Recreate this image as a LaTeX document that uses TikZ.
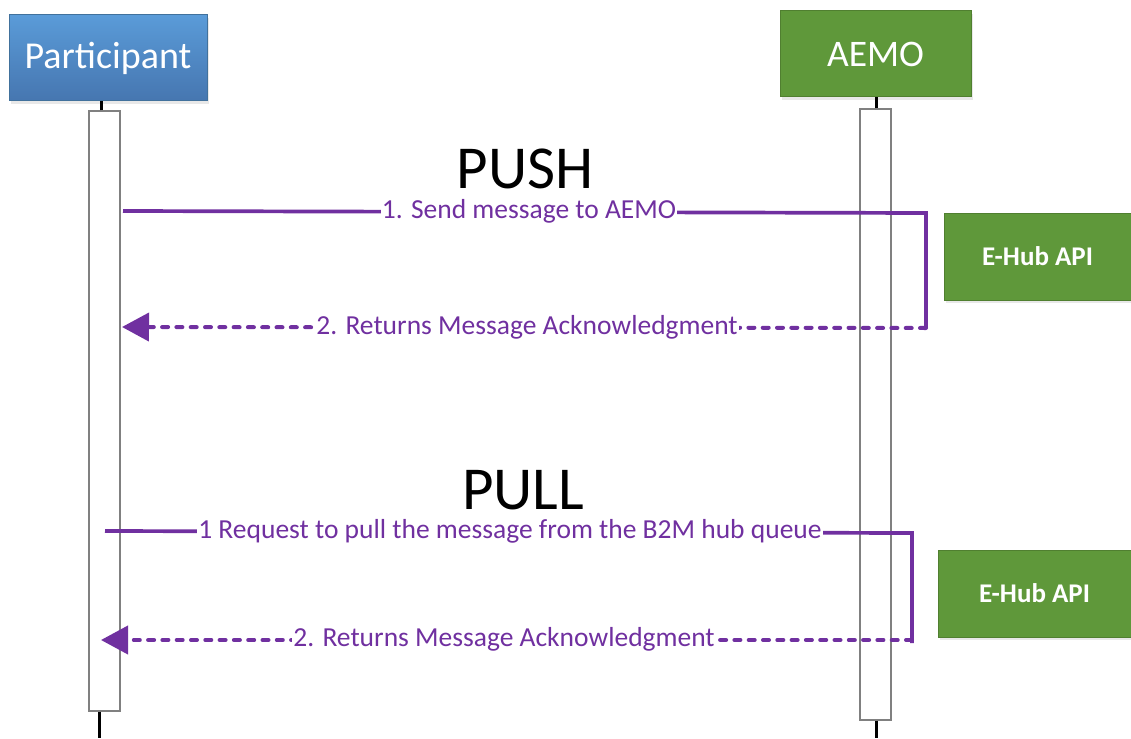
\documentclass[tikz,border=0pt]{standalone}
\usepackage{fontspec}
\setmainfont{Carlito}
\usetikzlibrary{arrows.meta,shadows}
\definecolor{msgpurple}{HTML}{7030A0}
\definecolor{bluetop}{HTML}{5A9BD8}
\definecolor{bluebot}{HTML}{4676B0}
\definecolor{blueedge}{HTML}{41719C}
\definecolor{hubgreen}{HTML}{5F983A}
\definecolor{greenedge}{HTML}{507F30}
\begin{document}
\begin{tikzpicture}[x=1pt,y=-1pt,
  actorblue/.style={draw=blueedge,line width=1pt,top color=bluetop,bottom color=bluebot,
     text=white,minimum width=198pt,minimum height=86pt,inner sep=0pt,
     font=\fontsize{38}{44}\selectfont,
     drop shadow={opacity=0.18,shadow xshift=2pt,shadow yshift=-3pt}},
  actorgreen/.style={draw=greenedge,line width=1pt,fill=hubgreen,
     text=white,minimum width=191pt,minimum height=86pt,inner sep=0pt,
     font=\fontsize{37.5}{44}\selectfont,
     drop shadow={opacity=0.18,shadow xshift=2pt,shadow yshift=-3pt}},
  hubbox/.style={draw=greenedge,line width=1pt,fill=hubgreen,text=white,
     minimum height=87pt,inner sep=0pt,font=\fontsize{27}{30}\selectfont\bfseries,
     drop shadow={opacity=0.18,shadow xshift=2pt,shadow yshift=-3pt}},
  actbox/.style={draw=black!50,line width=1.3pt,fill=white,minimum width=31pt,inner sep=0pt},
  lifeline/.style={draw=black,line width=3pt},
  msgline/.style={draw=msgpurple,line width=3.7pt},
  retline/.style={draw=msgpurple,line width=4pt,line cap=round,dash pattern=on 6pt off 8.3pt,
     -{Triangle[length=27pt,width=28pt,line cap=butt]}},
  lbl/.style={fill=white,text=msgpurple,inner xsep=1pt,inner ysep=0pt,
     text height=15pt,text depth=5pt,font=\fontsize{27.5}{30}\selectfont},
  heading/.style={font=\fontsize{61}{70}\selectfont,inner sep=0pt,anchor=base}
]
\useasboundingbox (0,0) rectangle (1131,738);

% actors
\node[actorblue] (part) at (108,58) {Participant};
\node[actorgreen] (aemo) at (875.5,54) {AEMO};

% activation boxes
\node[actbox,minimum height=600pt] (pact) at (104.5,411) {};
\node[actbox,minimum height=611pt] (aact) at (875.5,414.5) {};

% lifeline stubs
\coordinate (pbot) at (99,738);
\coordinate (abot) at (876,738);
\draw[lifeline] (pact.north -| 101,0) -- (part.south -| 101,0);
\draw[lifeline] (aact.north -| 876,0) -- (aemo.south -| 876,0);
\draw[lifeline] (pact.south -| pbot) -- (pbot);
\draw[lifeline] (aact.south -| abot) -- (abot);

% headings
\node[heading] (push) at (525,188) {PUSH};
\node[heading] (pull) at (523,509) {PULL};

% E-Hub boxes
\node[hubbox,minimum width=187pt] (hub1) at (1037.5,256.5) {E-Hub API};
\node[hubbox,minimum width=193pt] (hub2) at (1034.5,593.5) {E-Hub API};

% PUSH messages
\coordinate (s1) at (123,211);
\coordinate (c1) at (926,213);
\coordinate (c2) at (926,328);
\coordinate (e1) at (122,327);
\draw[msgline] (s1) -- (c1) -- (c2);
\node[lbl] (l1) at (529,213) {1. Send message to AEMO};
\draw[retline] (c2) -- (e1);
\node[lbl] (l2) at (527,329) {2. Returns Message Acknowledgment};

% PULL messages
\coordinate (s2) at (105,531);
\coordinate (c3) at (912,533);
\coordinate (c4) at (912,643);
\coordinate (c5) at (912,640);
\coordinate (e2) at (101,640);
\draw[msgline] (s2) -- (c3) -- (c4);
\node[lbl] (l3) at (510,533) {1 Request to pull the message from the B2M hub queue};
\draw[retline] (c5) -- (e2);
\node[lbl] (l4) at (504,641) {2. Returns Message Acknowledgment};
\end{tikzpicture}
\end{document}
